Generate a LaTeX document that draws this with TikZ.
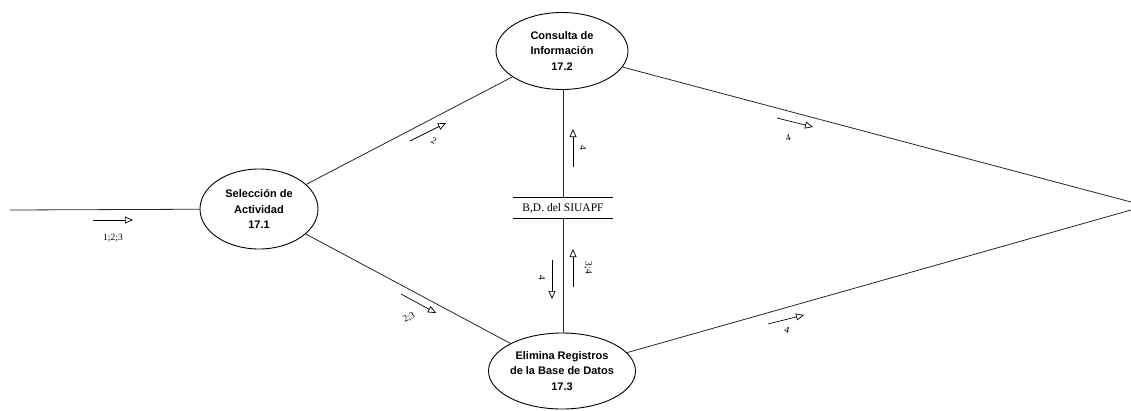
\documentclass[tikz,border=0pt]{standalone}
\usepackage{fontspec}
\setmainfont{Liberation Serif}
\newfontfamily\procfont{Liberation Sans}
\usetikzlibrary{shapes.geometric,arrows.meta,calc}
\tikzset{
  proc/.style={ellipse, draw, line width=0.9pt, inner sep=0pt, align=center,
    font=\procfont\bfseries\fontsize{11}{15.5}\selectfont},
  flow/.style={line width=0.8pt, draw=black!85},
  mini/.style={line width=0.7pt, -{Triangle[open,length=8pt,width=7pt]}},
  lbl/.style={font=\fontsize{9.5}{10}\selectfont, inner sep=0pt},
  store/.style={font=\fontsize{11.5}{13}\selectfont, inner sep=0pt}
}
\begin{document}
\begin{tikzpicture}[x=1pt,y=-1pt]
\useasboundingbox (0,0) rectangle (1131,410);
\node[proc, minimum width=118pt, minimum height=80pt] (a) at (259,209) {Selección de\\Actividad\\17.1};
\node[proc, minimum width=132pt, minimum height=77pt] (b) at (562,51) {Consulta de\\Información\\17.2};
\node[proc, minimum width=132pt, minimum height=76pt] (c) at (562,371) {Elimina Registros\\de la Base de Datos\\17.3};
\node[store, minimum width=100pt, minimum height=20pt] (db) at (563,208) {B,D. del SIUAPF};
\draw[line width=0.8pt] (db.north west) -- (db.north east);
\draw[line width=0.8pt] (db.south west) -- (db.south east);
\coordinate (in) at (10,210);
\coordinate (out1) at (1131,202);
\coordinate (out2) at (1131,210);
% connectors
\draw[flow] (in) -- (a);
\draw[flow] (a) -- (b);
\draw[flow] (a) -- (c);
\draw[flow] (b) -- (out1);
\draw[flow] (c) -- (out2);
\draw[flow] (b.south -| db.north) -- (db.north);
\draw[flow] (db.south) -- (c.north -| db.south);
% small flow arrows
\draw[mini] (93,220) -- (133,220);
\node[lbl] (l1) at (113,238) {1;2;3};
\draw[mini] (410,141) -- (446,123);
\node[lbl, rotate=-27] (l2) at (434,141) {2};
\draw[mini] (401,294) -- (436,313);
\node[lbl, rotate=28] (l3) at (409,318) {2;3};
\draw[mini] (573,167) -- (573,129);
\node[lbl, rotate=-90] (l4) at (583,148) {4};
\draw[mini] (573,287) -- (573,249);
\node[lbl, rotate=-90] (l5) at (588,268) {3;4};
\draw[mini] (552,260) -- (552,299);
\node[lbl, rotate=-90] (l6) at (542,278) {4};
\draw[mini] (777,118) -- (813,127);
\node[lbl, rotate=15] (l7) at (788,138) {4};
\draw[mini] (768,324) -- (804,315);
\node[lbl, rotate=-15] (l8) at (787,330) {4};
\end{tikzpicture}
\end{document}
